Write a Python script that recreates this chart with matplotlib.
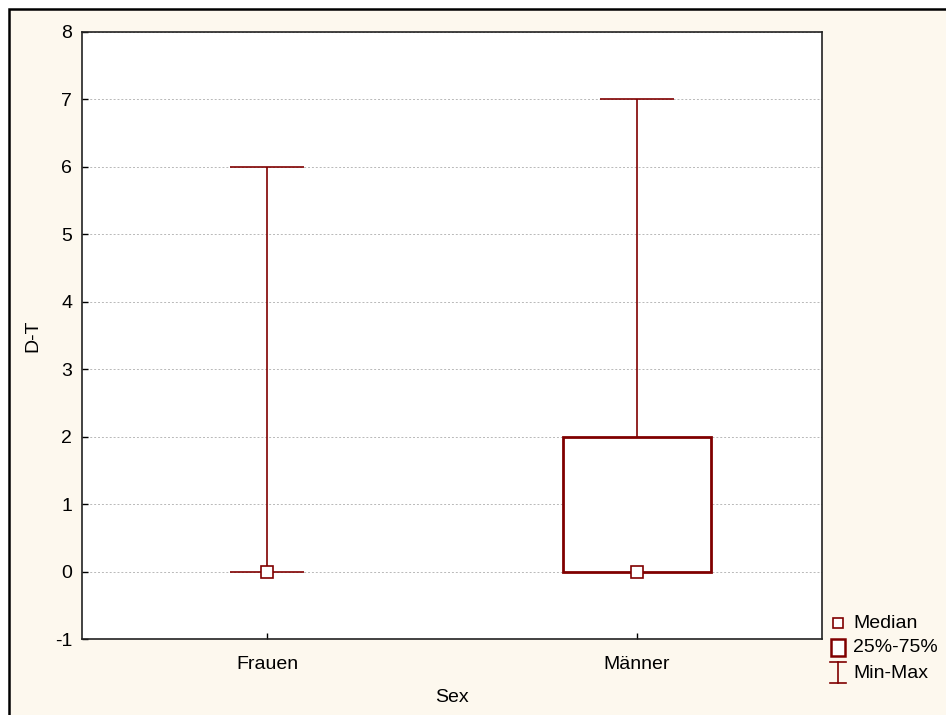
import matplotlib
matplotlib.use('Agg')
import matplotlib.pyplot as plt
from matplotlib.patches import Rectangle
from matplotlib.lines import Line2D

plt.rcParams['font.family'] = ['Liberation Sans', 'DejaVu Sans']
plt.rcParams['axes.unicode_minus'] = False

# Kennwerte je Gruppe
gruppen = ['Frauen', 'Männer']
minimum = [0, 0]
maximum = [6, 7]
q25 = [0, 0]
q75 = [0, 2]
median = [0, 0]

rot = '#800000'
hintergrund = '#fdf8ee'
fs = 14

W, H = 946, 715
fig = plt.figure(figsize=(W / 100, H / 100), dpi=100)
fig.patch.set_facecolor('white')

# cremefarbene Flaeche mit schwarzem Rahmen (oben/links)
fig.add_artist(Rectangle((9 / W, -0.1), 1.2, (H - 9) / H + 0.1, transform=fig.transFigure,
                         facecolor=hintergrund, edgecolor='black', linewidth=1.8, zorder=-10))

ax = fig.add_axes([82 / W, 1 - 639 / H, (822 - 82) / W, (639 - 32) / H])
ax.set_facecolor('white')

pos = list(range(len(gruppen)))
box_breite = 0.4
cap_breite = 0.2

for i in pos:
    ax.vlines(i, minimum[i], maximum[i], color=rot, linewidth=1.2, zorder=3)
    ax.hlines([minimum[i], maximum[i]], i - cap_breite / 2, i + cap_breite / 2,
              color=rot, linewidth=1.2, zorder=3)
    if q75[i] > q25[i]:
        ax.add_patch(Rectangle((i - box_breite / 2, q25[i]), box_breite, q75[i] - q25[i],
                               facecolor='white', edgecolor=rot, linewidth=2, zorder=4))
    ax.plot(i, median[i], marker='s', markersize=8, markerfacecolor='white',
            markeredgecolor=rot, markeredgewidth=1.2, linestyle='none', zorder=5)

ax.set_xlim(-0.5, 1.5)
ax.set_ylim(-1, 8)
ax.set_xticks(pos)
ax.set_xticklabels(gruppen)
ax.set_yticks(range(-1, 9))
ax.yaxis.grid(True, linestyle=(0, (2, 2)), color='#b8b8b8', linewidth=0.7)
ax.set_axisbelow(True)
ax.tick_params(direction='in', length=4, width=1, labelsize=fs)
ax.tick_params(axis='x', pad=12)
ax.tick_params(axis='y', pad=7)
for s in ax.spines.values():
    s.set_linewidth(1.2)
    s.set_color('#222222')

ax.set_xlabel('Sex', fontsize=fs)
ax.set_ylabel('D-T', fontsize=fs)
ax.xaxis.set_label_coords(0.5, -(698 - 639) / 607)
ax.yaxis.set_label_coords((33 - 82) / 740, 0.5)
ax.xaxis.label.set_va('center')
ax.yaxis.label.set_va('center')

# Legende unten rechts
tf = fig.transFigure
def px(x, y):
    return x / W, 1 - y / H

fig.add_artist(Line2D(*zip(px(838, 623)), marker='s', markersize=7, markerfacecolor='white',
                      markeredgecolor=rot, markeredgewidth=1.2, transform=tf))
fig.add_artist(Rectangle(px(831, 656), 14 / W, 17 / H, transform=tf,
                         facecolor='white', edgecolor=rot, linewidth=1.8))
fig.add_artist(Line2D([px(838, 662)[0]] * 2, [px(838, 662)[1], px(838, 683)[1]],
                      color=rot, linewidth=1.2, transform=tf))
for yy in (662, 683):
    fig.add_artist(Line2D([px(830, yy)[0], px(846, yy)[0]], [px(830, yy)[1]] * 2,
                          color=rot, linewidth=1.2, transform=tf))
for label, yy in [('Median', 623), ('25%-75%', 647), ('Min-Max', 673)]:
    fig.text(*px(853, yy), label, fontsize=fs, va='center', ha='left')

fig.savefig('out.png', dpi=100, facecolor=fig.get_facecolor())
